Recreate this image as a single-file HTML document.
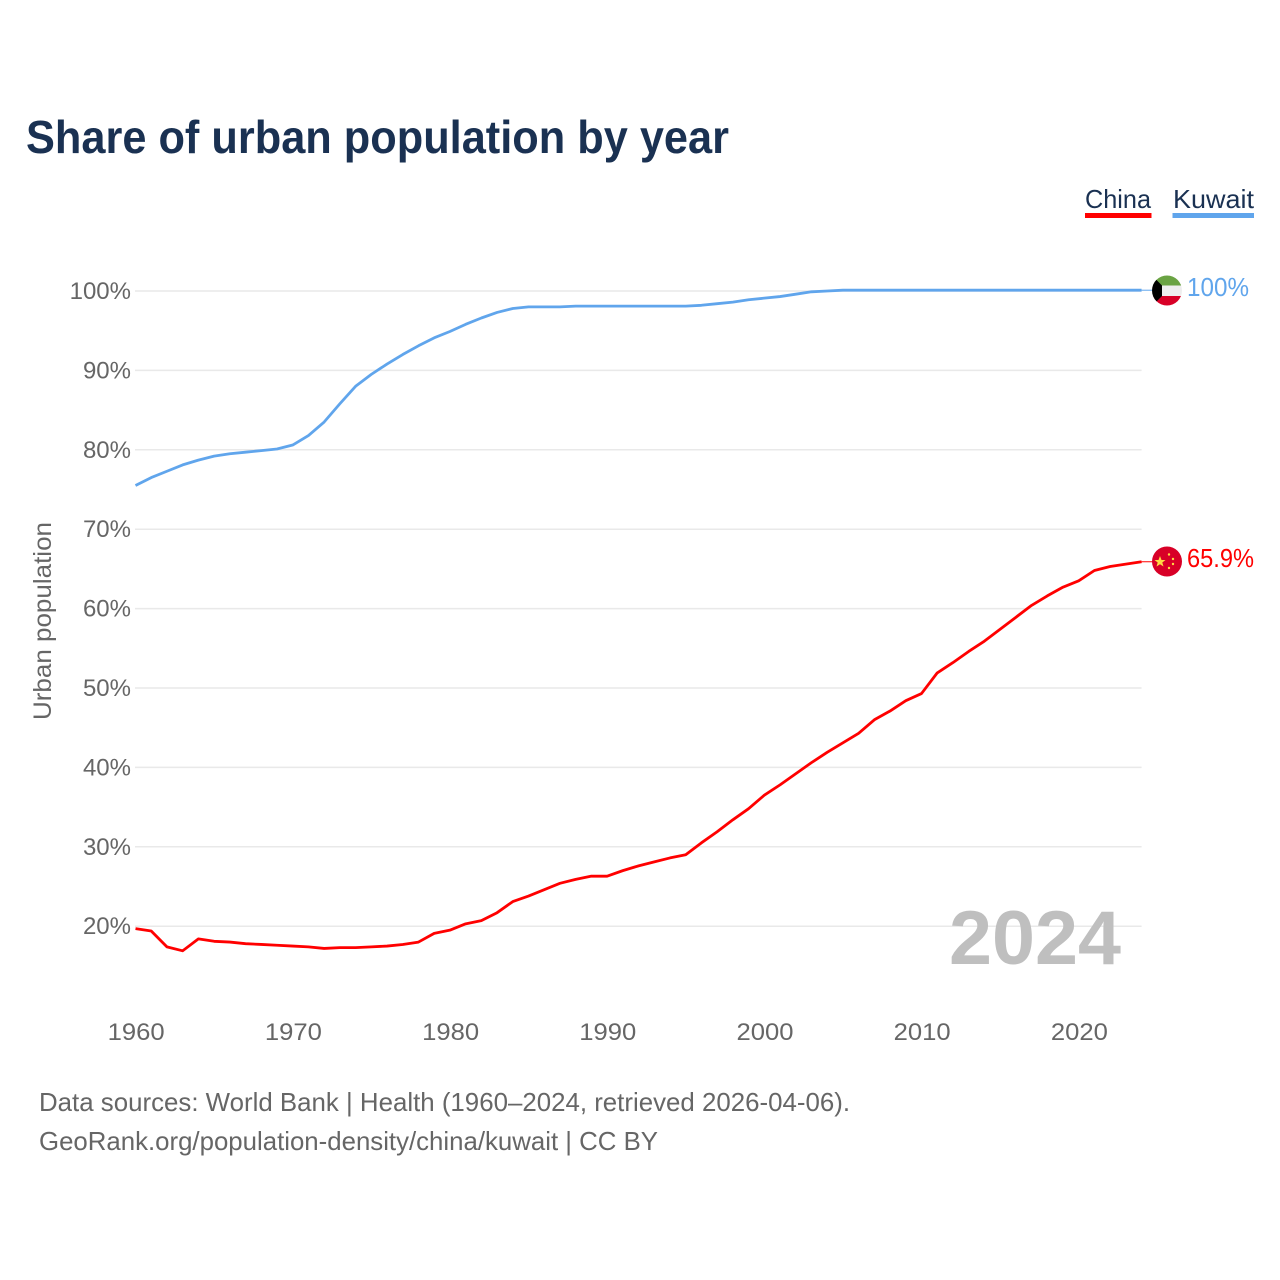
<!DOCTYPE html>
<html lang="en">
<head>
<meta charset="utf-8">
<title>Share of urban population by year</title>
<style>
html,body{margin:0;padding:0;background:#fff;}
svg{display:block;font-family:"Liberation Sans",sans-serif;}
</style>
</head>
<body>
<svg id="chart" xmlns="http://www.w3.org/2000/svg" width="1280" height="1280" viewBox="0 0 1280 1280">
  <defs>
    <clipPath id="flag-clip-kw"><circle cx="1167" cy="290.5" r="15"/></clipPath>
    <clipPath id="flag-clip-cn"><circle cx="1167" cy="561.5" r="15"/></clipPath>
  </defs>
  <rect width="1280" height="1280" fill="#ffffff"/>
  <text x="26" y="153" font-size="46" font-weight="700" fill="#1a3152" textLength="703" lengthAdjust="spacingAndGlyphs">Share of urban population by year</text>

  <g>
    <g>
      <text x="1085" y="208" font-size="26" fill="#1a3152" textLength="66" lengthAdjust="spacingAndGlyphs">China</text>
      <rect x="1085" y="213" width="66.5" height="5" fill="#ff0000"/>
    </g>
    <g>
      <text x="1173" y="208" font-size="26" fill="#1a3152" textLength="81" lengthAdjust="spacingAndGlyphs">Kuwait</text>
      <rect x="1172.500" y="213" width="81.500" height="5" fill="#60a5ec"/>
    </g>
  </g>

  <g id="grid"></g>
  <g id="yticks"></g>
  <g id="xticks"></g>

  <text transform="translate(51,621) rotate(-90)" text-anchor="middle" font-size="25" fill="#666666" textLength="198" lengthAdjust="spacingAndGlyphs">Urban population</text>

  <text x="1121" y="964" text-anchor="end" font-size="76" font-weight="700" fill="#bfbfbf" textLength="172" lengthAdjust="spacingAndGlyphs">2024</text>

  <g id="series"></g>

  <g clip-path="url(#flag-clip-kw)">
    <rect x="1152" y="275.500" width="30" height="10" fill="#6aa343"/>
    <rect x="1152" y="285.500" width="30" height="10.500" fill="#eeeeee"/>
    <rect x="1152" y="296" width="30" height="10" fill="#d80027"/>
    <polygon points="1152,275.500 1162,285.500 1162,296 1152,306" fill="#000000"/>
  </g>
  <g clip-path="url(#flag-clip-cn)">
    <rect x="1152" y="546.500" width="30" height="30" fill="#d80027"/>
    <polygon points="1160,556 1161.500,560 1165.500,560 1162.300,562.500 1163.500,566.500 1160,564.200 1156.500,566.500 1157.700,562.500 1154.500,560 1158.500,560" fill="#ffda44"/>
    <circle cx="1169" cy="554.500" r="1.200" fill="#ffda44"/>
    <circle cx="1173" cy="559" r="1.200" fill="#ffda44"/>
    <circle cx="1173" cy="564" r="1.200" fill="#ffda44"/>
    <circle cx="1169" cy="568" r="1.200" fill="#ffda44"/>
  </g>

  <text x="1187" y="296" font-size="26" fill="#60a5ec" textLength="62" lengthAdjust="spacingAndGlyphs">100%</text>
  <text x="1187" y="567" font-size="26" fill="#ff0000" textLength="67" lengthAdjust="spacingAndGlyphs">65.9%</text>

  <text x="39" y="1111" font-size="26" fill="#666666" textLength="811" lengthAdjust="spacingAndGlyphs">Data sources: World Bank | Health (1960–2024, retrieved 2026-04-06).</text>
  <text x="39" y="1150" font-size="26" fill="#666666" textLength="619" lengthAdjust="spacingAndGlyphs">GeoRank.org/population-density/china/kuwait | CC BY</text>
</svg>
<script>
var startYear = 1960;
var chinaValues = [19.7,19.4,17.4,16.9,18.4,18.1,18.0,17.8,17.7,17.6,17.5,17.4,17.2,17.3,17.3,17.4,17.5,17.7,18.0,19.1,19.5,20.3,20.7,21.7,23.1,23.8,24.6,25.4,25.9,26.3,26.3,27.0,27.6,28.1,28.6,29.0,30.5,31.9,33.4,34.8,36.5,37.8,39.2,40.6,41.9,43.1,44.3,46.0,47.1,48.4,49.3,51.9,53.2,54.6,55.9,57.4,58.9,60.4,61.6,62.7,63.5,64.8,65.3,65.6,65.9];
var kuwaitValues = [75.5,76.5,77.3,78.1,78.7,79.2,79.5,79.7,79.9,80.1,80.6,81.8,83.5,85.8,88.0,89.5,90.8,92.0,93.1,94.1,94.9,95.8,96.6,97.3,97.8,98.0,98.0,98.0,98.1,98.1,98.1,98.1,98.1,98.1,98.1,98.1,98.2,98.4,98.6,98.9,99.1,99.3,99.6,99.9,100,100.1,100.1,100.1,100.1,100.1,100.1,100.1,100.1,100.1,100.1,100.1,100.1,100.1,100.1,100.1,100.1,100.1,100.1,100.1,100.1];
var yTickValues = [20,30,40,50,60,70,80,90,100];
var xTickValues = [1960,1970,1980,1990,2000,2010,2020];

var NS = 'http://www.w3.org/2000/svg';
function xScale(year){ return 135.5 + (year - 1960) * 15.72; }
function yScale(v){ return 291 + (100 - v) * 7.94; }
function make(tag, parent){
  var el = document.createElementNS(NS, tag);
  parent.appendChild(el);
  return el;
}
var grid = document.getElementById('grid');
var yticks = document.getElementById('yticks');
var xticks = document.getElementById('xticks');
var series = document.getElementById('series');

yTickValues.forEach(function(v){
  var line = make('line', grid);
  
  
  line.setAttribute('x1', 135);
  line.setAttribute('x2', xScale(2024));
  line.setAttribute('y1', yScale(v));
  line.setAttribute('y2', yScale(v));
  line.setAttribute('stroke', '#e9e9e9');
  line.setAttribute('stroke-width', '1.5');
  var t = make('text', yticks);
  
  
  t.setAttribute('x', 131);
  t.setAttribute('y', yScale(v) + 8);
  t.setAttribute('text-anchor', 'end');
  t.setAttribute('font-size', '24');
  t.setAttribute('fill', '#666666');
  t.textContent = v + '%';
});

xTickValues.forEach(function(y){
  var t = make('text', xticks);
  
  
  t.setAttribute('x', xScale(y) + 0.7);
  t.setAttribute('y', 1040);
  t.setAttribute('text-anchor', 'middle');
  t.setAttribute('font-size', '24');
  t.setAttribute('fill', '#666666');
  t.setAttribute('textLength', '57');
  t.setAttribute('lengthAdjust', 'spacingAndGlyphs');
  t.textContent = String(y);
});

function drawSeries(values, color, name){
  var pts = values.map(function(v, i){
    return xScale(startYear + i).toFixed(2) + ',' + yScale(v).toFixed(2);
  });
  var line = make('polyline', series);
  
  
  line.setAttribute('points', pts.join(' '));
  line.setAttribute('fill', 'none');
  line.setAttribute('stroke', color);
  line.setAttribute('stroke-width', '2.8');
  line.setAttribute('stroke-linejoin', 'round');
  var lastY = yScale(values[values.length - 1]);
  var lead = make('line', series);
  
  
  lead.setAttribute('x1', xScale(startYear + values.length - 1));
  lead.setAttribute('x2', 1153);
  lead.setAttribute('y1', lastY);
  lead.setAttribute('y2', lastY);
  lead.setAttribute('stroke', color);
  lead.setAttribute('stroke-width', '1');
}
drawSeries(chinaValues, '#ff0000', 'series-china');
drawSeries(kuwaitValues, '#60a5ec', 'series-kuwait');
</script>
</body>
</html>
